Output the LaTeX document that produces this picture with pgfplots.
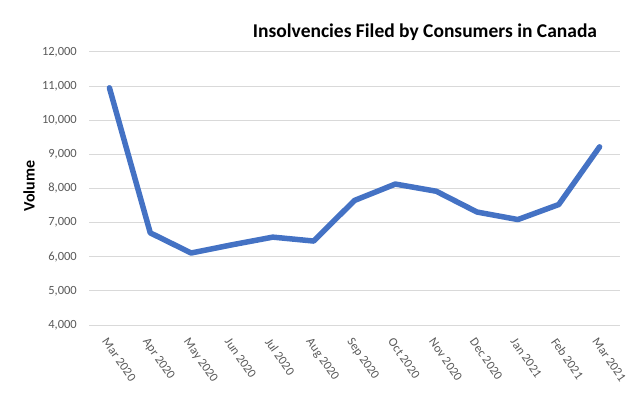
\documentclass[border=0pt]{standalone}
\usepackage{pgfplots}
\pgfplotsset{compat=1.18}
\usepackage{fontspec}
\setmainfont{Carlito}
\definecolor{linecol}{HTML}{4472C4}
\definecolor{gridcol}{HTML}{D9D9D9}
\definecolor{tickcol}{HTML}{595959}
\begin{document}
\begin{tikzpicture}
\begin{axis}[
  at={(89bp,68bp)}, anchor=south west,
  scale only axis, width=531bp, height=273bp,
  xmin=-0.5, xmax=12.5, ymin=4000, ymax=12000,
  ytick={4000,5000,...,12000},
  xtick={0,...,12},
  xticklabels={Mar 2020,Apr 2020,May 2020,Jun 2020,Jul 2020,Aug 2020,Sep 2020,Oct 2020,Nov 2020,Dec 2020,Jan 2021,Feb 2021,Mar 2021},
  axis line style={draw=none},
  major tick length=0pt,
  ymajorgrids, grid style={gridcol, line width=1bp},
  /pgf/number format/assume math mode=true,
  /pgf/number format/1000 sep={,},
  scaled y ticks=false,
  yticklabel style={font=\fontsize{12.5bp}{14bp}\selectfont, text=tickcol, inner sep=0pt, anchor=east, xshift=-12bp},
  xticklabel style={font=\fontsize{12.5bp}{14bp}\selectfont, text=tickcol, inner sep=0pt, xshift=-1bp, yshift=-12bp, rotate=-55, anchor=north west},
  clip=false,
]
\addplot[linecol, line width=5.5bp, line join=round, line cap=round] coordinates {
(0,10950) (1,6700) (2,6110) (3,6350) (4,6575) (5,6460) (6,7650) (7,8130) (8,7920) (9,7310) (10,7090) (11,7530) (12,9220)
};
\end{axis}
\node[font=\bfseries\fontsize{19.5bp}{23bp}\selectfont] at (425bp,361bp) {Insolvencies Filed by Consumers in Canada};
\node[font=\bfseries\fontsize{16bp}{19bp}\selectfont, rotate=90] at (29bp,207bp) {Volume};
\useasboundingbox (0,0) rectangle (640bp,393bp);
\end{tikzpicture}
\end{document}
